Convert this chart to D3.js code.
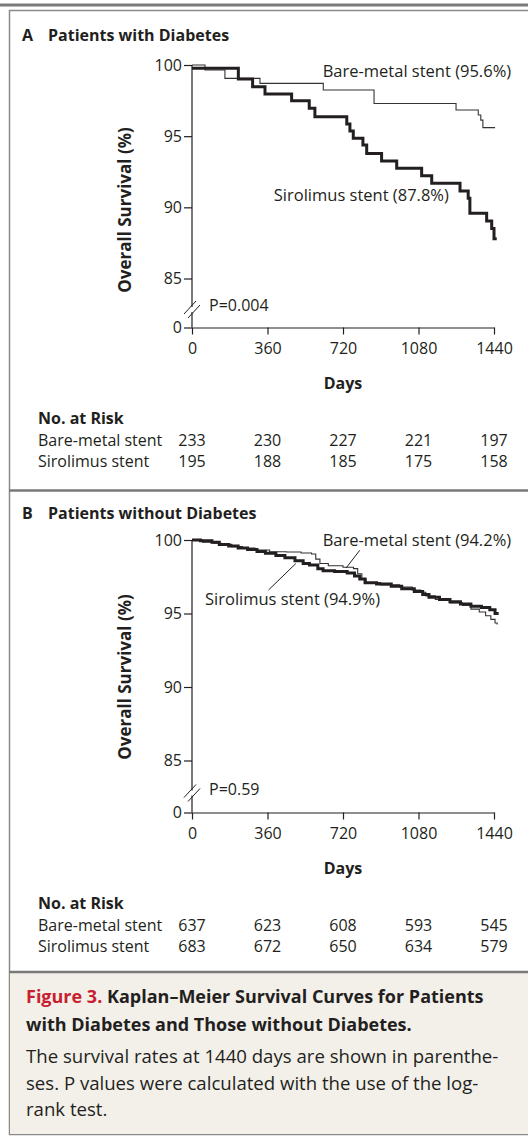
<!DOCTYPE html>
<html>
<head>
<meta charset="utf-8">
<script src="https://cdn.jsdelivr.net/npm/d3@7"></script>
<style>
  body { margin: 0; background: #fff; }
  svg { display: block; font-family: "Open Sans", sans-serif; }
</style>
</head>
<body>
<svg width="528" height="1137"></svg>
<script>
// Data
const dayTicks = [0, 360, 720, 1080, 1440];
const survTicks = [0, 85, 90, 95, 100];
const riskGroups = ["Bare-metal stent", "Sirolimus stent"];

// panel A - patients with diabetes
const riskA_bare = [233, 230, 227, 221, 197];
const riskA_siro = [195, 188, 185, 175, 158];
const bareA = [[0,100],[62,99.65],[157,99.06],[324,98.71],[626,98.24],[868,97.3],[1259,96.84],[1365,96.49],[1377,96.13],[1387,95.6],[1445,95.6]];
const siroA = [[0,99.77],[221,99.02],[289,98.48],[348,97.96],[475,97.49],[559,96.96],[586,96.37],[738,95.85],[753,95.36],[769,94.85],[815,94.38],[833,93.79],[904,93.25],[976,92.74],[1095,92.22],[1143,91.69],[1278,91.15],[1317,90.63],[1325,89.58],[1405,89.04],[1429,88.52],[1440,87.8],[1453,87.8]];

// panel B - patients without diabetes
const riskB_bare = [637, 623, 608, 593, 545];
const riskB_siro = [683, 672, 650, 634, 579];
const bareB = [[0,100],[50,99.85],[100,99.78],[140,99.7],[190,99.55],[240,99.45],[300,99.32],[370,99.2],[450,99.18],[520,99.12],[570,99.05],[590,98.7],[610,98.4],[650,98.25],[720,98.15],[770,98.05],[790,97.7],[810,97.35],[830,97.1],[900,96.95],[990,96.8],[1050,96.6],[1090,96.45],[1115,96.2],[1160,95.95],[1230,95.72],[1290,95.55],[1330,95.3],[1370,95.1],[1400,94.85],[1425,94.6],[1445,94.35],[1455,94.25]];
const siroB = [[0,100],[40,99.95],[95,99.85],[130,99.7],[175,99.6],[220,99.45],[265,99.35],[310,99.22],[350,99.1],[400,98.95],[443,98.8],[491,98.58],[530,98.4],[560,98.3],[600,98.05],[625,97.9],[680,97.85],[740,97.75],[775,97.55],[800,97.35],[825,97.1],[880,97.0],[950,96.85],[1000,96.68],[1060,96.5],[1100,96.3],[1130,96.1],[1180,95.95],[1230,95.8],[1280,95.65],[1330,95.5],[1380,95.4],[1420,95.25],[1445,95.0],[1455,94.9]];

const ink = "#231f20";
const svg = d3.select("svg");

// frame lines
svg.append("line").attr("x1", 0).attr("x2", 528).attr("y1", 5).attr("y2", 5)
  .attr("stroke", "#7a7a7a").attr("stroke-width", 3);
svg.append("rect").attr("x", 9.5).attr("y", 10.5).attr("width", 530).attr("height", 1124)
  .attr("fill", "none").attr("stroke", "#8a8a8a").attr("stroke-width", 1.5);

function drawPanel(p) {
  const g = svg.append("g");
  const x = d3.scaleLinear().domain([0, 1440]).range([192, 494]);
  const y = d3.scaleLinear().domain([0, 85, 100]).range(p.yRange);

  // title
  const t = g.append("text").attr("x", 22).attr("y", p.titleY)
    .attr("fill", ink).style("font-size", "16px").style("font-weight", "bold");
  t.append("tspan").text(p.letter);
  t.append("tspan").attr("x", 48).text(p.title);

  // axes
  const yAxis = g.append("g").attr("transform", "translate(192,0)")
    .call(d3.axisLeft(y).tickValues(survTicks).tickSize(8).tickSizeOuter(0).tickPadding(2));
  const xAxis = g.append("g").attr("transform", `translate(0,${y(0)})`)
    .call(d3.axisBottom(x).tickValues(dayTicks).tickFormat(d3.format("d"))
      .tickSize(7).tickSizeOuter(0).tickPadding(8));
  [yAxis, xAxis].forEach(a => {
    a.selectAll("path, line").attr("stroke", ink).attr("stroke-width", 1.2);
    a.selectAll("text").attr("fill", ink).style("font-size", "16px").style("font-family", "Open Sans");
  });
  yAxis.select(".domain").attr("d", `M0,${y(100)}V${y(0)}`);

  // axis break
  const by = (y(0) + y(85)) / 2 + 7;
  g.append("rect").attr("x", 189).attr("y", by - 3).attr("width", 6).attr("height", 5).attr("fill", "#fff");
  [-2, 2].forEach(o => {
    g.append("line").attr("x1", 186 + o).attr("y1", by + 6 + o)
      .attr("x2", 198 + o).attr("y2", by - 7 + o)
      .attr("stroke", ink).attr("stroke-width", 1);
  });

  g.append("text").attr("x", 209).attr("y", by + 1).attr("fill", ink)
    .style("font-size", "16px").text(p.pval);

  // axis titles
  g.append("text").attr("transform", `translate(131,${p.yLabelMid}) rotate(-90)`)
    .attr("text-anchor", "middle").attr("fill", ink)
    .style("font-size", "17px").style("font-weight", "bold").text("Overall Survival (%)");
  g.append("text").attr("x", x(720)).attr("y", y(0) + 61).attr("text-anchor", "middle")
    .attr("fill", ink).style("font-size", "16px").style("font-weight", "bold").text("Days");

  // curves
  const line = d3.line().x(d => x(d[0])).y(d => y(d[1])).curve(d3.curveStepAfter);
  g.append("path").datum(p.bare).attr("d", line).attr("fill", "none")
    .attr("stroke", "#333").attr("stroke-width", 1.1);
  g.append("path").datum(p.siro).attr("d", line).attr("fill", "none")
    .attr("stroke", ink).attr("stroke-width", 3);

  // curve labels
  p.labels.forEach(l => {
    g.append("text").attr("x", x(l.day)).attr("y", y(l.surv)).attr("fill", ink)
      .style("font-size", "16.5px").text(l.text);
    if (l.leader) {
      g.append("line").attr("x1", x(l.leader[0])).attr("y1", y(l.leader[1]))
        .attr("x2", x(l.leader[2])).attr("y2", y(l.leader[3]))
        .attr("stroke", ink).attr("stroke-width", 1);
    }
  });

  // number at risk
  const base = y(0) + 96;
  g.append("text").attr("x", 38).attr("y", base).attr("fill", ink)
    .style("font-size", "16px").style("font-weight", "bold").text("No. at Risk");
  [p.riskBare, p.riskSiro].forEach((row, i) => {
    const ry = base + 22 + i * 21.5;
    g.append("text").attr("x", 38).attr("y", ry).attr("fill", ink)
      .style("font-size", "16px").text(riskGroups[i]);
    g.selectAll(null).data(row).join("text")
      .attr("x", (d, j) => x(dayTicks[j])).attr("y", ry)
      .attr("text-anchor", "middle").attr("fill", ink)
      .style("font-size", "16px").text(d => d);
  });
}

drawPanel({
  letter: "A", title: "Patients with Diabetes", titleY: 41,
  yRange: [327.5, 278.5, 65], yLabelMid: 210, pval: "P=0.004",
  bare: bareA, siro: siroA, riskBare: riskA_bare, riskSiro: riskA_siro,
  labels: [
    { text: "Bare-metal stent (95.6%)", day: 623, surv: 99.15 },
    { text: "Sirolimus stent (87.8%)", day: 390, surv: 90.45 }
  ]
});

// separator between panels
svg.append("line").attr("x1", 9).attr("x2", 528).attr("y1", 490.5).attr("y2", 490.5)
  .attr("stroke", "#7a7a7a").attr("stroke-width", 2.5);

drawPanel({
  letter: "B", title: "Patients without Diabetes", titleY: 518.5,
  yRange: [812.5, 760.5, 540], yLabelMid: 677, pval: "P=0.59",
  bare: bareB, siro: siroB, riskBare: riskB_bare, riskSiro: riskB_siro,
  labels: [
    { text: "Bare-metal stent (94.2%)", day: 623, surv: 99.62, leader: [800, 99.3, 735, 98.1] },
    { text: "Sirolimus stent (94.9%)", day: 62, surv: 95.55, leader: [365, 96.6, 495, 98.4] }
  ]
});

// caption
const cap = svg.append("g");
cap.append("rect").attr("x", 10).attr("y", 972).attr("width", 518).attr("height", 162)
  .attr("fill", "#f3f0ea");
cap.append("line").attr("x1", 9).attr("x2", 528).attr("y1", 972).attr("y2", 972)
  .attr("stroke", "#7a7a7a").attr("stroke-width", 2.5);
const capTitle = ["Kaplan\u2013Meier Survival Curves for Patients", "with Diabetes and Those without Diabetes."];
const capBody = ["The survival rates at 1440 days are shown in parenthe-", "ses. P values were calculated with the use of the log-", "rank test."];
const t1 = cap.append("text").attr("x", 26).attr("y", 1003).attr("fill", ink)
  .style("font-size", "18px").style("font-weight", "bold");
t1.append("tspan").attr("fill", "#c8202f").text("Figure 3. ");
t1.append("tspan").text(capTitle[0]);
cap.append("text").attr("x", 26).attr("y", 1030.5).attr("fill", ink)
  .style("font-size", "18px").style("font-weight", "bold").text(capTitle[1]);
capBody.forEach((s, i) => {
  cap.append("text").attr("x", 26).attr("y", 1063 + i * 26.5).attr("fill", ink)
    .style("font-size", "18.6px").text(s);
});
</script>
</body>
</html>
